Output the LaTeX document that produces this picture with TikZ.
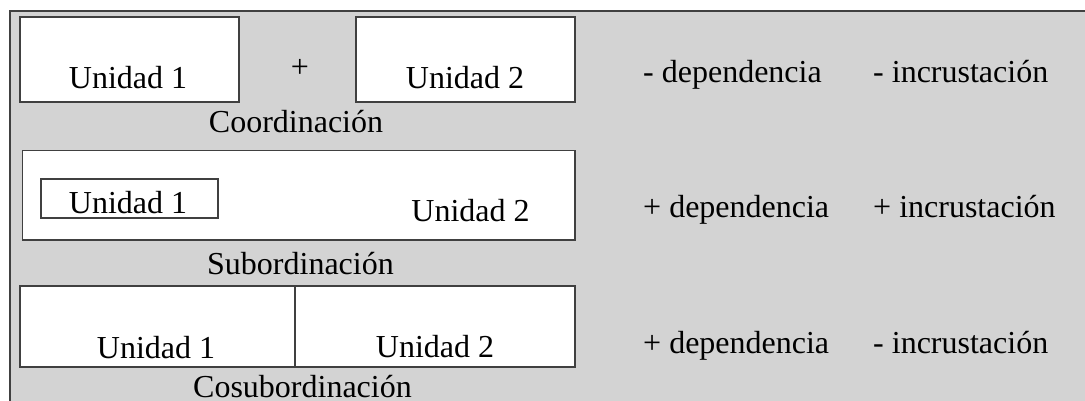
\documentclass[tikz,border=0pt]{standalone}
\usepackage{fontspec}
\setmainfont{Liberation Serif}
\usetikzlibrary{positioning}
\definecolor{panelgray}{HTML}{D3D3D3}
\definecolor{edgegray}{HTML}{404040}
\tikzset{
  unitbox/.style={draw=edgegray, line width=1.2pt, fill=white, inner sep=0pt},
  label/.style={inner sep=0pt, anchor=base, font=\fontsize{32}{38}\selectfont},
  feature/.style={label, anchor=base west}
}

\begin{document}
\begin{tikzpicture}[x=1pt, y=-1pt]
		%%%%% START %%%%%
		
		\useasboundingbox[fill=white] (0, 0) rectangle (1085, 401);
		\fill[panelgray] (9, 11) rectangle (1085, 401);
		\draw[edgegray, line width=2pt] (9.5, 401) -- (9.5, 11) -- (1085, 11);
		
		% coordinacion
		\node[unitbox, minimum width=219, minimum height=85] (co1) at (129.5, 59.5) {};
		\node[unitbox, minimum width=219, minimum height=85] (co2) at (465.5, 59.5) {};
		\node[label] (co1t) at (128, 89) {Unidad 1};
		\node[label] (co2t) at (465, 89) {Unidad 2};
		\node[label] (plus) at (300, 78) {+};
		\node[label] (coname) at (296, 133) {Coordinación};
		
		% subordinacion
		\node[unitbox, minimum width=552.5, minimum height=89.5] (su) at (298.75, 195.25) {};
		\node[unitbox, minimum width=177, minimum height=39] (su1) at (129.5, 198.5) {};
		\node[label] (su1t) at (128, 213) {Unidad 1};
		\node[label] (su2t) at (470.5, 222) {Unidad 2};
		\node[label] (suname) at (300.5, 274) {Subordinación};
		
		% cosubordinacion
		\node[unitbox, minimum width=275, minimum height=81] (cs1) at (157.5, 326.5) {};
		\node[unitbox, minimum width=280, minimum height=81] (cs2) at (435, 326.5) {};
		\node[label] (cs1t) at (156, 358) {Unidad 1};
		\node[label] (cs2t) at (435, 357) {Unidad 2};
		\node[label] (csname) at (302.5, 397) {Cosubordinación};
		
		% rasgos
		\node[feature] (dep1) at (643, 83) {- dependencia};
		\node[feature] (inc1) at (873, 83) {- incrustación};
		\node[feature] (dep2) at (643, 218) {+ dependencia};
		\node[feature] (inc2) at (873, 218) {+ incrustación};
		\node[feature] (dep3) at (643, 353) {+ dependencia};
		\node[feature] (inc3) at (873, 353) {- incrustación};
		
		%%%%% END %%%%%
	\end{tikzpicture}
\end{document}
